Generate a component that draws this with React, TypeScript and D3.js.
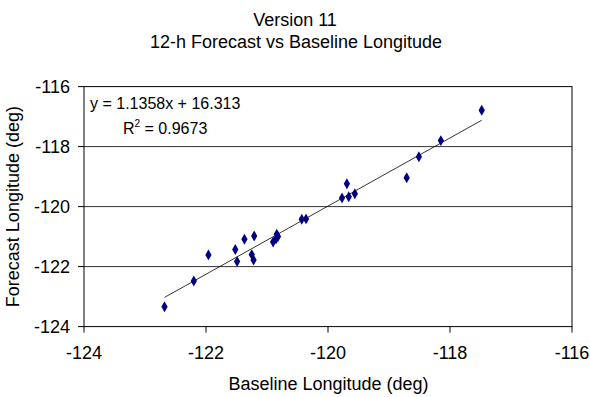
import React from "react";
import * as d3 from "d3";

const baselineLon = [
  -122.68, -122.2, -121.96, -121.52, -121.49, -121.37, -121.25, -121.22, -121.21,
  -120.9, -120.85, -120.84, -120.82, -120.43, -120.36, -119.77, -119.69, -119.66,
  -119.56, -118.71, -118.51, -118.15, -117.48,
];
const forecastLon = [
  -123.34, -122.48, -121.61, -121.43, -121.83, -121.09, -121.6, -121.78, -120.98,
  -121.18, -121.07, -120.92, -121.0, -120.42, -120.41, -119.71, -119.24, -119.67,
  -119.57, -119.04, -118.34, -117.8, -116.79,
];
const xTicks = [-124, -122, -120, -118, -116];
const yTicks = [-124, -122, -120, -118, -116];
const gridValues = [-122, -120, -118];
const trendSlope = 1.1358;
const trendIntercept = 16.313;
const titleLines = ["Version 11", "12-h Forecast vs Baseline Longitude"];
const xTitle = "Baseline Longitude (deg)";
const yTitle = "Forecast Longitude (deg)";
const eqText = "y = 1.1358x + 16.313";
const r2Value = "0.9673";

const W = 590;
const H = 397;
const plot = { left: 84, right: 572, top: 86.6, bottom: 326.6 };
const font = "'Liberation Sans', Arial, Helvetica, sans-serif";

export default function App() {
  const x = d3.scaleLinear().domain([-124, -116]).range([plot.left, plot.right]);
  const y = d3.scaleLinear().domain([-124, -116]).range([plot.bottom, plot.top]);
  const xmin = d3.min(baselineLon) as number;
  const xmax = d3.max(baselineLon) as number;
  const line = d3
    .line<number>()
    .x((d) => x(d))
    .y((d) => y(trendSlope * d + trendIntercept));
  const diamond = d3.symbol().type(d3.symbolDiamond).size(34)();

  return (
    <svg
      width={W}
      height={H}
      style={{ position: "absolute", left: 0, top: 0, background: "#fff" }}
      fontFamily={font}
    >
      <rect x={0} y={0} width={W} height={H} fill="#fff" />
      {/* title */}
      <text x={295} y={25.5} fontSize={18} textAnchor="middle" fill="#000">
        {titleLines[0]}
      </text>
      <text x={296} y={48} fontSize={18} textAnchor="middle" fill="#000">
        {titleLines[1]}
      </text>
      {/* gridlines */}
      {gridValues.map((v) => (
        <line
          key={"g" + v}
          x1={plot.left}
          x2={plot.right}
          y1={y(v)}
          y2={y(v)}
          stroke="#333"
          strokeWidth={1}
        />
      ))}
      {/* plot border */}
      <rect
        x={plot.left}
        y={plot.top}
        width={plot.right - plot.left}
        height={plot.bottom - plot.top}
        fill="none"
        stroke="#000"
        strokeWidth={1}
      />
      {/* y ticks */}
      {yTicks.map((v) => (
        <g key={"yt" + v}>
          <line x1={plot.left - 6} x2={plot.left} y1={y(v)} y2={y(v)} stroke="#000" />
          <text x={70} y={y(v) + 6.5} fontSize={18} textAnchor="end" fill="#000">
            {v}
          </text>
        </g>
      ))}
      {/* x ticks */}
      {xTicks.map((v) => (
        <g key={"xt" + v}>
          <line x1={x(v)} x2={x(v)} y1={plot.bottom} y2={plot.bottom + 6} stroke="#000" />
          <text x={x(v)} y={359} fontSize={18} textAnchor="middle" fill="#000">
            {v}
          </text>
        </g>
      ))}
      {/* axis titles */}
      <text x={328.5} y={390} fontSize={18} textAnchor="middle" fill="#000">
        {xTitle}
      </text>
      <text
        transform={`translate(18.5,${(plot.top + plot.bottom) / 2}) rotate(-90)`}
        fontSize={18}
        textAnchor="middle"
        fill="#000"
      >
        {yTitle}
      </text>
      {/* trendline */}
      <path d={line([xmin, xmax]) || ""} fill="none" stroke="#000" strokeWidth={0.8} />
      {/* points */}
      {baselineLon.map((bx, i) => (
        <path
          key={"p" + i}
          d={diamond || ""}
          transform={`translate(${x(bx)},${y(forecastLon[i])})`}
          fill="#000080"
        />
      ))}
      {/* equation */}
      <text x={90} y={109} fontSize={16} fill="#000">
        {eqText}
      </text>
      <text x={123} y={134} fontSize={16} fill="#000">
        R<tspan fontSize={10} dy={-7}>2</tspan>
        <tspan dy={7}>{" = " + r2Value}</tspan>
      </text>
    </svg>
  );
}
